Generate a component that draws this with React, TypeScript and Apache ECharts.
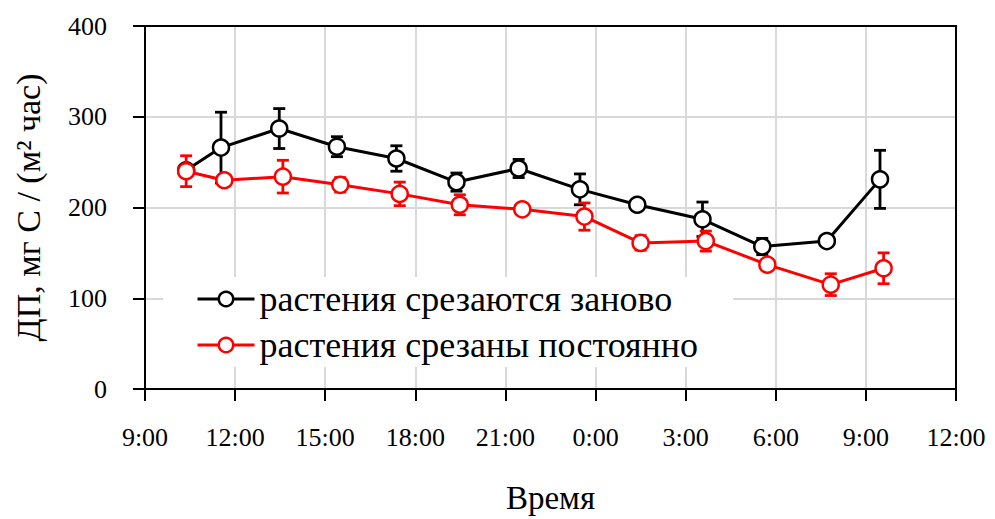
import React, { useEffect, useRef } from "react";
import * as echarts from "echarts";

// hours since 9:00 of the first day
const blackHours = [1.37, 2.53, 4.47, 6.39, 8.37, 10.37, 12.44, 14.48, 16.39, 18.56, 20.55, 22.7, 24.47];
const blackValues = [241, 266, 287, 267, 254, 228, 243, 220, 203, 187, 157, 163, 231];
const blackErrors = [5, 39, 22, 11, 14, 10, 10, 17, 4, 19, 9, 4, 32];

const redHours = [1.37, 2.64, 4.59, 6.5, 8.48, 10.48, 12.56, 14.63, 16.5, 18.67, 20.72, 22.83, 24.59];
const redValues = [240, 230, 234, 225, 215, 203, 198, 190, 161, 163, 137, 115, 133];
const redErrors = [17, 6, 18, 8, 13, 11, 4, 15, 8, 11, 5, 12, 17];

const seriesNames = ["растения срезаются заново", "растения срезаны постоянно"];
const xAxisTitle = "Время";
const yAxisTitle = "ДП, мг С / (м² час)";

const X_MIN = 0;
const X_MAX = 27;
const Y_MIN = 0;
const Y_MAX = 400;

const FONT = "'Liberation Serif', 'DejaVu Serif', serif";

function errSeries(name: string, hours: number[], vals: number[], errs: number[], color: string, z: number) {
  return {
    type: "custom",
    name,
    z,
    silent: true,
    encode: { x: 0, y: 1 },
    data: hours.map((h, i) => [h, vals[i], errs[i]]),
    renderItem: (params: any, api: any) => {
      const x = api.value(0);
      const y = api.value(1);
      const e = api.value(2);
      const top = api.coord([x, y + e]);
      const bot = api.coord([x, y - e]);
      const hw = 6;
      const style = { stroke: color, lineWidth: 2.8 };
      return {
        type: "group",
        children: [
          { type: "line", shape: { x1: top[0], y1: top[1], x2: bot[0], y2: bot[1] }, style },
          { type: "line", shape: { x1: top[0] - hw, y1: top[1], x2: top[0] + hw, y2: top[1] }, style },
          { type: "line", shape: { x1: bot[0] - hw, y1: bot[1], x2: bot[0] + hw, y2: bot[1] }, style },
        ],
      };
    },
  };
}

function lineSeries(name: string, hours: number[], vals: number[], color: string, z: number) {
  return {
    type: "line",
    name,
    z,
    data: hours.map((h, i) => [h, vals[i]]),
    symbol: "circle",
    symbolSize: 16,
    showAllSymbol: true,
    lineStyle: { color, width: 3 },
    itemStyle: { color: "#fff", borderColor: color, borderWidth: 2.5 },
  };
}

const gridSplit = {
  show: true,
  showMinLine: false,
  showMaxLine: false,
  lineStyle: { color: "#d9d9d9", width: 2 },
};

export default function App() {
  const ref = useRef<HTMLDivElement>(null);
  useEffect(() => {
    if (!ref.current) return;
    const chart = echarts.init(ref.current, undefined, { renderer: "svg" });
    chart.setOption({
      animation: false,
      backgroundColor: "#fff",
      textStyle: { fontFamily: FONT, color: "#000" },
      grid: {
        left: 145,
        right: 39,
        top: 26,
        bottom: 130,
      },
      legend: {
        data: seriesNames,
        orient: "vertical",
        left: 163,
        top: 277,
        z: 10,
        backgroundColor: "#fff",
        padding: [4, 35, 4, 33],
        itemWidth: 57,
        itemHeight: 18,
        itemGap: 10,
        lineStyle: { width: 3 },
        itemStyle: { borderWidth: 2.5 },
        textStyle: { fontFamily: FONT, fontSize: 36, lineHeight: 36, color: "#000" },
      },
      xAxis: {
        type: "value",
        min: X_MIN,
        max: X_MAX,
        interval: 3,
        name: xAxisTitle,
        nameLocation: "middle",
        nameGap: 92,
        nameTextStyle: { fontFamily: FONT, fontSize: 33, color: "#000" },
        axisLine: { show: true, onZero: false, lineStyle: { color: "#000", width: 2 } },
        axisTick: { show: true, length: 12, lineStyle: { color: "#000", width: 2 } },
        axisLabel: {
          fontFamily: FONT,
          fontSize: 26,
          color: "#000",
          margin: 35,
          formatter: (v: number) => `${(9 + v) % 24}:00`,
        },
        splitLine: gridSplit,
      },
      yAxis: {
        type: "value",
        min: Y_MIN,
        max: Y_MAX,
        interval: 100,
        name: yAxisTitle,
        nameLocation: "middle",
        nameGap: 100,
        nameTextStyle: { fontFamily: FONT, fontSize: 34, color: "#000" },
        axisLine: { show: true, onZero: false, lineStyle: { color: "#000", width: 2 } },
        axisTick: { show: true, length: 12, lineStyle: { color: "#000", width: 2 } },
        axisLabel: { fontFamily: FONT, fontSize: 26, color: "#000", margin: 38 },
        splitLine: gridSplit,
      },
      series: [
        errSeries("errBlack", blackHours, blackValues, blackErrors, "#000", 2),
        lineSeries(seriesNames[0], blackHours, blackValues, "#000", 3),
        errSeries("errRed", redHours, redValues, redErrors, "#ff0000", 4),
        lineSeries(seriesNames[1], redHours, redValues, "#ff0000", 5),
      ],
    });
    // plot frame (top and right edges) derived from the axes' own scales
    const tl = chart.convertToPixel({ gridIndex: 0 }, [X_MIN, Y_MAX]) as number[];
    const br = chart.convertToPixel({ gridIndex: 0 }, [X_MAX, Y_MIN]) as number[];
    chart.setOption({
      graphic: [
        {
          type: "polyline",
          z: 100,
          silent: true,
          shape: { points: [[tl[0], tl[1]], [br[0], tl[1]], [br[0], br[1]]] },
          style: { stroke: "#000", lineWidth: 2, fill: "none" },
        },
      ],
    });
    return () => chart.dispose();
  }, []);
  return (
    <div
      ref={ref}
      style={{ position: "fixed", left: 0, top: 0, width: 995, height: 519 }}
    />
  );
}
